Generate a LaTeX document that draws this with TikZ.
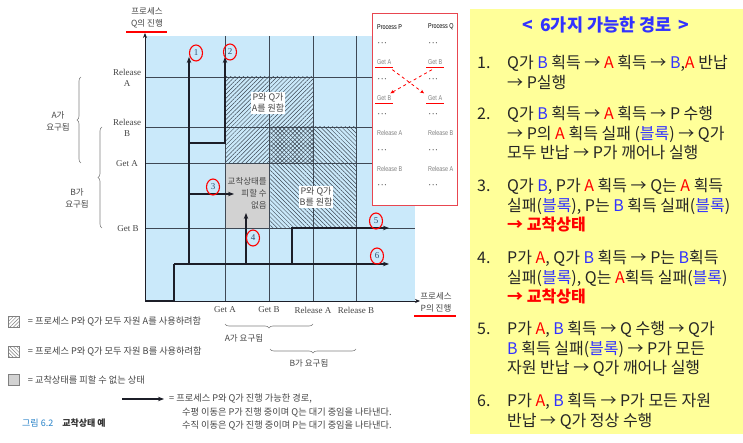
\documentclass[tikz,border=0pt]{standalone}
\usepackage{fontspec}
\setmainfont{Liberation Serif}
\newfontfamily\kr{Noto Sans CJK KR}
\newfontfamily\narrowsans[FakeStretch=0.78]{Liberation Sans}
\usetikzlibrary{arrows.meta, positioning, calc, shapes.geometric, patterns.meta, decorations.pathreplacing}

\definecolor{chartblue}{RGB}{202,233,250}
\definecolor{gridgray}{RGB}{62,72,84}
\definecolor{pathink}{RGB}{28,30,40}
\definecolor{labelgray}{RGB}{70,70,70}
\definecolor{numblue}{RGB}{45,80,115}
\definecolor{boxred}{RGB}{232,70,80}
\definecolor{notepad}{RGB}{255,255,153}
\definecolor{hiblue}{RGB}{50,50,255}
\definecolor{figblue}{RGB}{40,130,200}

\newcommand{\resB}[1]{\textcolor{hiblue}{#1}}
\newcommand{\resA}[1]{\textcolor{red}{#1}}

\begin{document}
\begin{tikzpicture}[x=1pt, y=-1pt,
    gridline/.style={gridgray, line width=0.6pt},
    progline/.style={pathink, line width=1.5pt},
    progtip/.style={-{Stealth[length=6pt, width=4.5pt]}},
    stepmark/.style={ellipse, draw=red, line width=1.1pt, minimum width=13pt, minimum height=16pt, inner sep=0pt, font=\fontsize{9}{9}\selectfont, text=numblue},
    axislabel/.style={font=\fontsize{9}{11}\selectfont, text=labelgray, align=center, inner sep=0pt},
    krlabel/.style={font=\kr\fontsize{8.5}{12}\selectfont, text=labelgray, align=center, inner sep=0pt},
    zonelabel/.style={font=\kr\fontsize{9}{11}\selectfont, text=labelgray, fill=white, align=center, inner sep=1pt},
    reqbrace/.style={decorate, decoration={brace, amplitude=4pt}, gray, line width=0.6pt},
    underline/.style={red, line width=1.4pt},
    codetext/.style={font=\narrowsans\fontsize{7}{8}\selectfont, text=gray, anchor=west, inner sep=0pt},
    codedots/.style={font=\fontsize{10}{10}\selectfont, text=black!70, anchor=west, inner sep=0pt},
    legendbox/.style={draw=gray, minimum width=11pt, minimum height=11pt, inner sep=0pt},
    legendtext/.style={font=\kr\fontsize{9.2}{10}\selectfont, text=labelgray, anchor=west, inner sep=0pt},
    itemtext/.style={font=\kr\fontsize{16}{19.5}\selectfont, text=black!85, align=left, anchor=north west, inner sep=0pt}
]
\path[use as bounding box, fill=white] (0,0) rectangle (743,443);

% Progress chart: background, zones and grid
\fill[chartblue] (145,36) rectangle (415,301);
\fill[gray!35] (225,163) rectangle (269,228);
\fill[pattern={Lines[angle=45, distance=3pt, line width=0.5pt]}, pattern color=gridgray] (225,77) rectangle (313,163);
\fill[pattern={Lines[angle=-45, distance=3pt, line width=0.5pt]}, pattern color=gridgray] (269,127) rectangle (356,228);
\foreach \gx in {225,269,313,356}
    \draw[gridline] (\gx,36) -- (\gx,301);
\foreach \gy in {77,127,163,228}
    \draw[gridline] (145,\gy) -- (415,\gy);

% Axes
\coordinate (origin) at (145,301);
\coordinate (qtop) at (145,33);
\coordinate (pend) at (420,301);
\draw[pathink, line width=0.8pt, -{Stealth[length=5pt, width=4pt]}] (origin) -- (qtop);
\draw[pathink, line width=0.8pt, -{Stealth[length=5pt, width=4pt]}] (origin) -- (pend);

% Joint progress paths
\draw[progline] (origin) -- (174,301) -- (174,264);
\draw[progline, progtip] (174,264) -- (389,264);
\draw[progline, progtip] (189,264) -- (189,57);
\draw[progline, progtip] (189,143) -- (225,143) -- (225,57);
\draw[progline, progtip] (189,194) -- (234,194);
\draw[progline, progtip] (246,264) -- (246,213);
\draw[progline, progtip] (292,264) -- (292,228) -- (389,228);

\node[stepmark] (s1) at (196,53) {1};
\node[stepmark] (s2) at (230,52) {2};
\node[stepmark] (s3) at (213,187) {3};
\node[stepmark] (s4) at (253,238) {4};
\node[stepmark] (s5) at (376,221) {5};
\node[stepmark] (s6) at (377,256) {6};

% Zone labels
\node[zonelabel] (zoneA) at (268,103) {P와 Q가\\A를 원함};
\node[zonelabel] (zoneB) at (316,197) {P와 Q가\\B를 원함};
\node[krlabel, align=right, anchor=east] (zonedl) at (267,193) {교착상태를\\피할 수\\없음};

% Axis names and ticks
\node[krlabel] (qname) at (147,18) {프로세스\\Q의 진행};
\draw[underline] (126,32) -- (167,32);
\node[krlabel] (pname) at (436,302) {프로세스\\P의 진행};
\draw[underline] (414,316) -- (456,316);

\node[axislabel] (qrela) at (127,78) {Release\\A};
\node[axislabel] (qrelb) at (127,128) {Release\\B};
\node[axislabel] (qgeta) at (127,164) {Get A};
\node[axislabel] (qgetb) at (128,229) {Get B};
\node[axislabel] (pgeta) at (225,310) {Get A};
\node[axislabel] (pgetb) at (269,310) {Get B};
\node[axislabel] (prela) at (313,310) {Release A};
\node[axislabel] (prelb) at (356,310) {Release B};

% Request braces
\draw[reqbrace] (81,163) -- (81,77);
\node[krlabel] (qneeda) at (58,121) {A가\\요구됨};
\draw[reqbrace] (102,228) -- (102,127);
\node[krlabel] (qneedb) at (77,198) {B가\\요구됨};
\draw[reqbrace] (313,324) -- (225,324);
\node[krlabel] (pneeda) at (244,338) {A가 요구됨};
\draw[reqbrace] (356,349) -- (270,349);
\node[krlabel] (pneedb) at (309,363) {B가 요구됨};

% Code of the two processes
\node[draw=boxred, line width=0.9pt, fill=white, minimum width=85pt, minimum height=192pt, inner sep=0pt] (codebox) at (414.5,109) {};
\node[codetext, text=black] (hp) at (377,27) {Process P};
\node[codetext, text=black] (hq) at (428,27) {Process Q};
\foreach \ry in {45,81,116,152,187} {
    \node[codedots] (dp\ry) at (377,\ry) {\textperiodcentered\textperiodcentered\textperiodcentered};
    \node[codedots] (dq\ry) at (428,\ry) {\textperiodcentered\textperiodcentered\textperiodcentered};
}
\node[codetext] (cpa) at (377,62) {Get A};
\node[codetext] (cqb) at (428,62) {Get B};
\node[codetext] (cpb) at (377,98) {Get B};
\node[codetext] (cqa) at (428,98) {Get A};
\node[codetext] (cpra) at (377,133) {Release A};
\node[codetext] (cqrb) at (428,133) {Release B};
\node[codetext] (cprb) at (377,169) {Release B};
\node[codetext] (cqra) at (428,169) {Release A};
\foreach \c in {cpa,cqb,cpb,cqa}
    \draw[red, line width=1.2pt] ([xshift=-2pt, yshift=-3pt]\c.south west) -- ([xshift=2pt, yshift=-3pt]\c.south east);
\draw[red, dashed, line width=0.8pt, -{Stealth[length=4pt, width=3.5pt]}] ([xshift=1pt, yshift=-5pt]cpa.south east) -- ([xshift=-4pt, yshift=2pt]cqa.north west);
\draw[red, dashed, line width=0.8pt, -{Stealth[length=4pt, width=3.5pt]}] ([xshift=4pt, yshift=-5pt]cqb.south west) -- ([xshift=-1pt, yshift=2pt]cpb.north east);

% Legend
\node[legendbox, pattern={Lines[angle=45, distance=2.5pt, line width=0.5pt]}, pattern color=gray] (lega) at (14,322) {};
\node[legendtext, right=8pt of lega] (legat) {= 프로세스 P와 Q가 모두 자원 A를 사용하려함};
\node[legendbox, pattern={Lines[angle=-45, distance=2.5pt, line width=0.5pt]}, pattern color=gray] (legb) at (14,352) {};
\node[legendtext, right=8pt of legb] (legbt) {= 프로세스 P와 Q가 모두 자원 B를 사용하려함};
\node[legendbox, fill=gray!35] (legd) at (14,380) {};
\node[legendtext, right=8pt of legd] (legdt) {= 교착상태를 피할 수 없는 상태};
\coordinate (legpath0) at (122,399);
\coordinate (legpath1) at (164,399);
\draw[progline, progtip] (legpath0) -- (legpath1);
\node[legendtext] (legpt) at (169,399) {= 프로세스 P와 Q가 진행 가능한 경로,};
\node[legendtext] (legh) at (182,413) {수평 이동은 P가 진행 중이며 Q는 대기 중임을 나타낸다.};
\node[legendtext] (legv) at (182,426) {수직 이동은 Q가 진행 중이며 P는 대기 중임을 나타낸다.};
\node[legendtext, font=\kr\fontsize{9}{10}\selectfont] (figcap) at (22,423) {\textcolor{figblue}{그림 6.2}\quad\textbf{\textcolor{black!80}{교착상태 예}}};

% Six possible paths
\node[fill=notepad, minimum width=273pt, minimum height=425pt, inner sep=0pt, anchor=north west] (notes) at (470,9) {};
\node[font=\kr\bfseries\fontsize{17.5}{20}\selectfont, text=hiblue] (ntitle) at (606,25) {<\, 6가지 가능한 경로 \,>};
\foreach \n/\ty in {1/55, 2/106, 3/178, 4/250, 5/321, 6/393}
    \node[itemtext] (num\n) at (477,\ty) {\strut\n.};
\node[itemtext] (item1) at (507,55) {\strut Q가 \resB{B} 획득 → \resA{A} 획득 → \resB{B},\resA{A} 반납\\→ P실행};
\node[itemtext] (item2) at (507,106) {\strut Q가 \resB{B} 획득 → \resA{A} 획득 → P 수행\\→ P의 \resA{A} 획득 실패 (\resB{블록}) → Q가\\모두 반납 → P가 깨어나 실행};
\node[itemtext] (item3) at (507,178) {\strut Q가 \resB{B}, P가 \resA{A} 획득 → Q는 \resA{A} 획득\\실패(\resB{블록}), P는 \resB{B} 획득 실패(\resB{블록})\\\textcolor{red}{\textbf{→ 교착상태}}};
\node[itemtext] (item4) at (507,250) {\strut P가 \resA{A}, Q가 \resB{B} 획득 → P는 \resB{B}획득\\실패(\resB{블록}), Q는 \resA{A}획득 실패(\resB{블록})\\\textcolor{red}{\textbf{→ 교착상태}}};
\node[itemtext] (item5) at (507,321) {\strut P가 \resA{A}, \resB{B} 획득 → Q 수행 → Q가\\\resB{B} 획득 실패(\resB{블록}) → P가 모든\\자원 반납 → Q가 깨어나 실행};
\node[itemtext] (item6) at (507,393) {\strut P가 \resA{A}, \resB{B} 획득 → P가 모든 자원\\반납 → Q가 정상 수행};
\end{tikzpicture}
\end{document}
